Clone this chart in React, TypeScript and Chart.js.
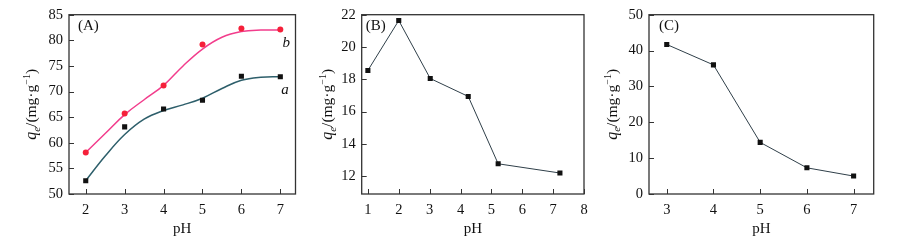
import React, { useEffect, useRef } from 'react';
import { Chart, registerables } from 'chart.js';
Chart.register(...registerables);

// ---------- Data ----------
// Panel A
const pHA = [2, 3, 4, 5, 6, 7];
const qeA_a = [52.6, 63.1, 66.6, 68.3, 73.0, 72.9];
const qeA_b = [58.1, 65.7, 71.2, 79.2, 82.3, 82.1];
const fitPH = [2, 2.5, 3, 3.5, 4, 4.5, 5, 5.5, 6, 6.5, 7];
const fitA_a = [52.6, 57.4, 61.6, 64.6, 66.3, 67.4, 68.7, 70.6, 72.2, 72.8, 72.9];
const fitA_b = [58.1, 61.8, 65.5, 68.4, 71.2, 75.0, 78.3, 80.6, 81.7, 82.0, 82.0];
const xTicksA = [2, 3, 4, 5, 6, 7];
const yTicksA = [50, 55, 60, 65, 70, 75, 80, 85];

// Panel B
const pHB = [1, 2, 3.02, 4.25, 5.22, 7.22];
const qeB = [18.55, 21.64, 18.05, 16.94, 12.77, 12.2];
const xTicksB = [1, 2, 3, 4, 5, 6, 7, 8];
const yTicksB = [12, 14, 16, 18, 20, 22];

// Panel C
const pHC = [3, 4, 5, 6, 7];
const qeC = [41.7, 36.0, 14.4, 7.3, 5.0];
const xTicksC = [3, 4, 5, 6, 7];
const yTicksC = [0, 10, 20, 30, 40, 50];

const xTitle = 'pH';
const panelLabels = ['(A)', '(B)', '(C)'];

const FONT = '"Liberation Serif", "Times New Roman", serif';
const TXT = '#111';

type Pt = { x: number; y: number };
const pts = (xs: number[], ys: number[]): Pt[] => xs.map((x, i) => ({ x, y: ys[i] }));

type PanelCfg = {
  left: number;
  width: number;
  yAxisW: number;
  rightPad: number;
  xMin: number; xMax: number; yMin: number; yMax: number;
  xTicks: number[]; yTicks: number[];
  datasets: any[];
  label: string;
  labelDx: number;
  titleOff: number;
  curveLabels?: { text: string; x: number; y: number }[];
};

function drawYTitle(ctx: CanvasRenderingContext2D, cx: number, cy: number) {
  const parts = [
    { t: 'q', f: `italic 16px ${FONT}`, dy: 0 },
    { t: 'e', f: `italic 11px ${FONT}`, dy: 3.5 },
    { t: '/(mg·g', f: `15.5px ${FONT}`, dy: 0 },
    { t: '−1', f: `10px ${FONT}`, dy: -6 },
    { t: ')', f: `15.5px ${FONT}`, dy: 0 },
  ];
  ctx.save();
  ctx.translate(cx, cy);
  ctx.rotate(-Math.PI / 2);
  let total = 0;
  const ws = parts.map((p) => { ctx.font = p.f; const w = ctx.measureText(p.t).width; total += w; return w; });
  let x = -total / 2;
  ctx.fillStyle = TXT;
  ctx.textBaseline = 'alphabetic';
  ctx.textAlign = 'left';
  parts.forEach((p, i) => {
    ctx.font = p.f;
    ctx.fillText(p.t, x, 5 + p.dy);
    x += ws[i];
  });
  ctx.restore();
}

function Panel({ cfg }: { cfg: PanelCfg }) {
  const ref = useRef<HTMLCanvasElement | null>(null);
  useEffect(() => {
    if (!ref.current) return;
    const deco = {
      id: 'deco' + cfg.label,
      afterDraw(chart: any) {
        const { ctx, chartArea: a, scales } = chart;
        const xs = scales.x, ys = scales.y;
        ctx.save();
        ctx.strokeStyle = '#333';
        ctx.lineWidth = 1.3;
        ctx.strokeRect(a.left, a.top, a.right - a.left, a.bottom - a.top);
        ctx.lineWidth = 1;
        ctx.beginPath();
        cfg.xTicks.forEach((v) => {
          const px = Math.round(xs.getPixelForValue(v)) + 0.5;
          ctx.moveTo(px, a.bottom);
          ctx.lineTo(px, a.bottom - 5);
        });
        cfg.yTicks.forEach((v) => {
          const py = Math.round(ys.getPixelForValue(v)) + 0.5;
          ctx.moveTo(a.left, py);
          ctx.lineTo(a.left + 5, py);
        });
        ctx.stroke();
        ctx.fillStyle = TXT;
        ctx.font = `15px ${FONT}`;
        ctx.textBaseline = 'middle';
        ctx.textAlign = 'left';
        ctx.fillText(cfg.label, a.left + cfg.labelDx, 26);
        if (cfg.curveLabels) {
          ctx.font = `italic 15px ${FONT}`;
          ctx.textAlign = 'center';
          cfg.curveLabels.forEach((c) => {
            ctx.fillText(c.text, xs.getPixelForValue(c.x), ys.getPixelForValue(c.y));
          });
        }
        ctx.restore();
        drawYTitle(ctx, a.left - cfg.titleOff, (a.top + a.bottom) / 2);
      },
    };
    const chart = new Chart(ref.current, {
      type: 'line',
      data: { datasets: cfg.datasets },
      options: {
        responsive: false,
        animation: false,
        layout: { padding: { top: 10.5, right: cfg.rightPad, left: 0, bottom: 0 } },
        plugins: { legend: { display: false }, tooltip: { enabled: false } },
        scales: {
          x: {
            type: 'linear',
            min: cfg.xMin,
            max: cfg.xMax,
            afterBuildTicks: (s: any) => { s.ticks = cfg.xTicks.map((v) => ({ value: v })); },
            afterFit: (s: any) => { s.height = 49; },
            grid: { display: false, drawTicks: false },
            border: { display: false },
            ticks: { font: { family: FONT, size: 14.5 }, color: TXT, padding: 7, maxRotation: 0, autoSkip: false },
            title: { display: true, text: xTitle, font: { family: FONT, size: 15 }, color: TXT, padding: { top: 0, bottom: 5 } },
          },
          y: {
            type: 'linear',
            min: cfg.yMin,
            max: cfg.yMax,
            afterBuildTicks: (s: any) => { s.ticks = cfg.yTicks.map((v) => ({ value: v })); },
            afterFit: (s: any) => { s.width = cfg.yAxisW; },
            grid: { display: false, drawTicks: false },
            border: { display: false },
            ticks: { font: { family: FONT, size: 14.5 }, color: TXT, padding: 6, autoSkip: false },
          },
        },
      },
      plugins: [deco],
    } as any);
    return () => chart.destroy();
  }, [cfg]);
  return (
    <div style={{ position: 'absolute', left: cfg.left, top: 0, width: cfg.width, height: 243 }}>
      <canvas ref={ref} width={cfg.width} height={243} style={{ width: cfg.width, height: 243, display: 'block' }} />
    </div>
  );
}

const lineDs = (data: Pt[], color: string, width: number) => ({
  data, borderColor: color, borderWidth: width, pointRadius: 0, fill: false, tension: 0, order: 2,
});
const curveDs = (data: Pt[], color: string) => ({
  data, borderColor: color, borderWidth: 1.5, pointRadius: 0, fill: false,
  tension: 0.4, order: 2,
});
const markDs = (data: Pt[], color: string, style: string, r: number) => ({
  data, showLine: false, pointStyle: style, pointRadius: r, pointBackgroundColor: color,
  pointBorderColor: color, pointBorderWidth: 0, order: 1,
});

const lineColor = '#2f3f49';

const panels: PanelCfg[] = [
  {
    left: 0, width: 300, yAxisW: 69, rightPad: 4.5,
    xMin: 1.57, xMax: 7.39, yMin: 50, yMax: 85,
    xTicks: xTicksA, yTicks: yTicksA,
    datasets: [
      curveDs(pts(fitPH, fitA_a), '#2e5f6b'),
      curveDs(pts(fitPH, fitA_b), '#f23d8c'),
      markDs(pts(pHA, qeA_a), '#111', 'rect', 3.6),
      markDs(pts(pHA, qeA_b), '#f5203a', 'circle', 3),
    ],
    label: panelLabels[0], labelDx: 9, titleOff: 38,
    curveLabels: [{ text: 'b', x: 7.15, y: 79.5 }, { text: 'a', x: 7.12, y: 70.3 }],
  },
  {
    left: 300, width: 300, yAxisW: 61.7, rightPad: 16,
    xMin: 0.8, xMax: 8, yMin: 10.9, yMax: 22,
    xTicks: xTicksB, yTicks: yTicksB,
    datasets: [
      lineDs(pts(pHB, qeB), lineColor, 1),
      markDs(pts(pHB, qeB), '#111', 'rect', 3.6),
    ],
    label: panelLabels[1], labelDx: 4, titleOff: 34.5,
  },
  {
    left: 600, width: 300, yAxisW: 49, rightPad: 26.3,
    xMin: 2.62, xMax: 7.43, yMin: 0, yMax: 50,
    xTicks: xTicksC, yTicks: yTicksC,
    datasets: [
      lineDs(pts(pHC, qeC), lineColor, 1),
      markDs(pts(pHC, qeC), '#111', 'rect', 3.6),
    ],
    label: panelLabels[2], labelDx: 10, titleOff: 37.3,
  },
];

export default function App() {
  return (
    <div style={{ position: 'fixed', left: 0, top: 0, width: 900, height: 243, background: '#fff', overflow: 'hidden' }}>
      {panels.map((p, i) => <Panel key={i} cfg={p} />)}
    </div>
  );
}
